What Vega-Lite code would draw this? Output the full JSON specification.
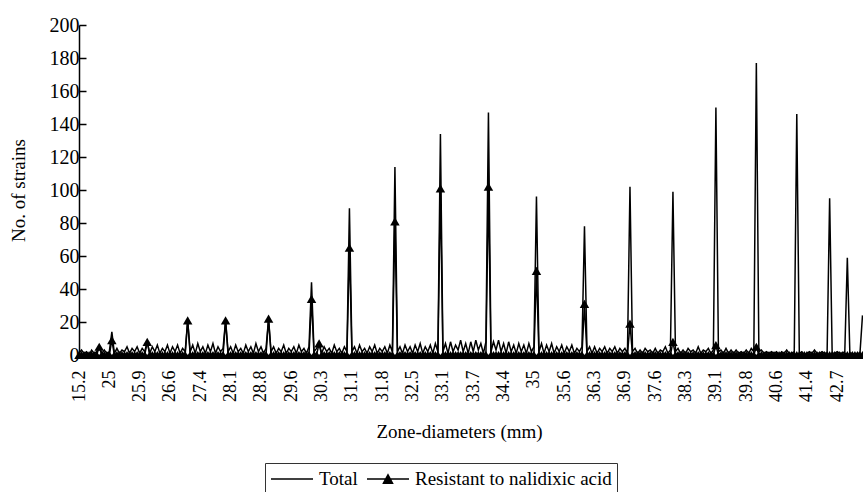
{
"$schema": "https://vega.github.io/schema/vega-lite/v6.json",
"autosize": {"type": "none"},
"padding": {"left": 79, "top": 25, "right": 0, "bottom": 137},
"width": 784,
"height": 330,
"background": "white",
"config": {
  "view": {"stroke": null},
  "font": "Liberation Serif",
  "axis": {"labelFont": "Liberation Serif", "titleFont": "Liberation Serif", "labelColor": "black", "titleColor": "black", "domainColor": "black", "tickColor": "black", "grid": false, "titleFontWeight": "normal", "domainWidth": 1.5, "tickWidth": 1.5},
  "axisY": {"values": [0,20,40,60,80,100,120,140,160,180,200], "tickSize": -7, "labelFontSize": 20, "labelPadding": 7, "labelOverlap": false, "labelFlush": false,
    "titleFontSize": 19, "titleAngle": 270, "titleX": -61, "titleY": 165, "titleBaseline": "middle", "titleAlign": "center"}
},
"data": {"values": [
{"i":0,"t":1,"r":0},{"i":1,"t":3,"r":0},{"i":2,"t":1,"r":0},{"i":3,"t":2,"r":0},{"i":4,"t":0,"r":0},{"i":5,"t":3,"r":0},{"i":6,"t":1,"r":0},{"i":7,"t":2,"r":0},{"i":8,"t":5,"r":5},{"i":9,"t":1,"r":0},{"i":10,"t":3,"r":0},{"i":11,"t":1,"r":0},
{"i":12,"t":2,"r":0},{"i":13,"t":14,"r":9},{"i":14,"t":1,"r":0},{"i":15,"t":4,"r":0},{"i":16,"t":1,"r":0},{"i":17,"t":3,"r":0},{"i":18,"t":2,"r":0},{"i":19,"t":5,"r":0},{"i":20,"t":1,"r":0},{"i":21,"t":4,"r":0},{"i":22,"t":2,"r":0},{"i":23,"t":5,"r":0},
{"i":24,"t":1,"r":0},{"i":25,"t":4,"r":0},{"i":26,"t":2,"r":0},{"i":27,"t":8,"r":8},{"i":28,"t":1,"r":0},{"i":29,"t":5,"r":0},{"i":30,"t":2,"r":0},{"i":31,"t":6,"r":0},{"i":32,"t":1,"r":0},{"i":33,"t":4,"r":0},{"i":34,"t":2,"r":0},{"i":35,"t":6,"r":0},
{"i":36,"t":1,"r":0},{"i":37,"t":5,"r":0},{"i":38,"t":2,"r":0},{"i":39,"t":6,"r":0},{"i":40,"t":1,"r":0},{"i":41,"t":4,"r":0},{"i":42,"t":2,"r":0},{"i":43,"t":21,"r":21},{"i":44,"t":2,"r":0},{"i":45,"t":6,"r":0},{"i":46,"t":1,"r":0},{"i":47,"t":7,"r":0},
{"i":48,"t":2,"r":0},{"i":49,"t":5,"r":0},{"i":50,"t":1,"r":0},{"i":51,"t":6,"r":0},{"i":52,"t":2,"r":0},{"i":53,"t":7,"r":0},{"i":54,"t":1,"r":0},{"i":55,"t":5,"r":0},{"i":56,"t":2,"r":0},{"i":57,"t":4,"r":0},{"i":58,"t":21,"r":21},{"i":59,"t":2,"r":0},
{"i":60,"t":5,"r":0},{"i":61,"t":1,"r":0},{"i":62,"t":6,"r":0},{"i":63,"t":2,"r":0},{"i":64,"t":4,"r":0},{"i":65,"t":1,"r":0},{"i":66,"t":6,"r":0},{"i":67,"t":2,"r":0},{"i":68,"t":5,"r":0},{"i":69,"t":1,"r":0},{"i":70,"t":7,"r":0},{"i":71,"t":2,"r":0},
{"i":72,"t":5,"r":0},{"i":73,"t":1,"r":0},{"i":74,"t":4,"r":0},{"i":75,"t":22,"r":22},{"i":76,"t":2,"r":0},{"i":77,"t":5,"r":0},{"i":78,"t":1,"r":0},{"i":79,"t":4,"r":0},{"i":80,"t":2,"r":0},{"i":81,"t":6,"r":0},{"i":82,"t":1,"r":0},{"i":83,"t":4,"r":0},
{"i":84,"t":2,"r":0},{"i":85,"t":5,"r":0},{"i":86,"t":1,"r":0},{"i":87,"t":6,"r":0},{"i":88,"t":2,"r":0},{"i":89,"t":4,"r":0},{"i":90,"t":1,"r":0},{"i":91,"t":5,"r":0},{"i":92,"t":44,"r":34},{"i":93,"t":2,"r":0},{"i":94,"t":4,"r":0},{"i":95,"t":7,"r":7},
{"i":96,"t":1,"r":0},{"i":97,"t":5,"r":0},{"i":98,"t":2,"r":0},{"i":99,"t":4,"r":0},{"i":100,"t":1,"r":0},{"i":101,"t":6,"r":0},{"i":102,"t":2,"r":0},{"i":103,"t":4,"r":0},{"i":104,"t":1,"r":0},{"i":105,"t":5,"r":0},{"i":106,"t":2,"r":0},{"i":107,"t":89,"r":65},
{"i":108,"t":2,"r":0},{"i":109,"t":5,"r":0},{"i":110,"t":1,"r":0},{"i":111,"t":6,"r":0},{"i":112,"t":2,"r":0},{"i":113,"t":4,"r":0},{"i":114,"t":1,"r":0},{"i":115,"t":5,"r":0},{"i":116,"t":2,"r":0},{"i":117,"t":6,"r":0},{"i":118,"t":1,"r":0},{"i":119,"t":4,"r":0},
{"i":120,"t":2,"r":0},{"i":121,"t":5,"r":0},{"i":122,"t":1,"r":0},{"i":123,"t":6,"r":0},{"i":124,"t":2,"r":0},{"i":125,"t":114,"r":81},{"i":126,"t":2,"r":0},{"i":127,"t":5,"r":0},{"i":128,"t":1,"r":0},{"i":129,"t":6,"r":0},{"i":130,"t":2,"r":0},{"i":131,"t":5,"r":0},
{"i":132,"t":1,"r":0},{"i":133,"t":6,"r":0},{"i":134,"t":2,"r":0},{"i":135,"t":7,"r":0},{"i":136,"t":1,"r":0},{"i":137,"t":5,"r":0},{"i":138,"t":2,"r":0},{"i":139,"t":6,"r":0},{"i":140,"t":1,"r":0},{"i":141,"t":7,"r":0},{"i":142,"t":2,"r":0},{"i":143,"t":134,"r":101},
{"i":144,"t":2,"r":0},{"i":145,"t":7,"r":0},{"i":146,"t":1,"r":0},{"i":147,"t":8,"r":0},{"i":148,"t":2,"r":0},{"i":149,"t":6,"r":0},{"i":150,"t":3,"r":0},{"i":151,"t":9,"r":0},{"i":152,"t":2,"r":0},{"i":153,"t":7,"r":0},{"i":154,"t":1,"r":0},{"i":155,"t":8,"r":0},
{"i":156,"t":2,"r":0},{"i":157,"t":9,"r":0},{"i":158,"t":3,"r":0},{"i":159,"t":7,"r":0},{"i":160,"t":1,"r":0},{"i":161,"t":8,"r":0},{"i":162,"t":147,"r":102},{"i":163,"t":2,"r":0},{"i":164,"t":8,"r":0},{"i":165,"t":3,"r":0},{"i":166,"t":9,"r":0},{"i":167,"t":2,"r":0},
{"i":168,"t":7,"r":0},{"i":169,"t":1,"r":0},{"i":170,"t":8,"r":0},{"i":171,"t":2,"r":0},{"i":172,"t":6,"r":0},{"i":173,"t":1,"r":0},{"i":174,"t":7,"r":0},{"i":175,"t":2,"r":0},{"i":176,"t":6,"r":0},{"i":177,"t":1,"r":0},{"i":178,"t":7,"r":0},{"i":179,"t":2,"r":0},
{"i":180,"t":5,"r":0},{"i":181,"t":96,"r":51},{"i":182,"t":2,"r":0},{"i":183,"t":7,"r":0},{"i":184,"t":1,"r":0},{"i":185,"t":6,"r":0},{"i":186,"t":2,"r":0},{"i":187,"t":7,"r":0},{"i":188,"t":1,"r":0},{"i":189,"t":5,"r":0},{"i":190,"t":2,"r":0},{"i":191,"t":6,"r":0},
{"i":192,"t":1,"r":0},{"i":193,"t":5,"r":0},{"i":194,"t":2,"r":0},{"i":195,"t":6,"r":0},{"i":196,"t":1,"r":0},{"i":197,"t":4,"r":0},{"i":198,"t":2,"r":0},{"i":199,"t":5,"r":0},{"i":200,"t":78,"r":31},{"i":201,"t":2,"r":0},{"i":202,"t":5,"r":0},{"i":203,"t":1,"r":0},
{"i":204,"t":5,"r":0},{"i":205,"t":1,"r":0},{"i":206,"t":4,"r":0},{"i":207,"t":2,"r":0},{"i":208,"t":5,"r":0},{"i":209,"t":1,"r":0},{"i":210,"t":4,"r":0},{"i":211,"t":2,"r":0},{"i":212,"t":5,"r":0},{"i":213,"t":1,"r":0},{"i":214,"t":4,"r":0},{"i":215,"t":2,"r":0},
{"i":216,"t":4,"r":0},{"i":217,"t":1,"r":0},{"i":218,"t":102,"r":19},{"i":219,"t":2,"r":0},{"i":220,"t":4,"r":0},{"i":221,"t":1,"r":0},{"i":222,"t":3,"r":0},{"i":223,"t":1,"r":0},{"i":224,"t":4,"r":0},{"i":225,"t":2,"r":0},{"i":226,"t":3,"r":0},{"i":227,"t":1,"r":0},
{"i":228,"t":4,"r":0},{"i":229,"t":1,"r":0},{"i":230,"t":3,"r":0},{"i":231,"t":2,"r":0},{"i":232,"t":5,"r":0},{"i":233,"t":1,"r":0},{"i":234,"t":3,"r":0},{"i":235,"t":99,"r":8},{"i":236,"t":2,"r":0},{"i":237,"t":4,"r":0},{"i":238,"t":1,"r":0},{"i":239,"t":3,"r":0},
{"i":240,"t":1,"r":0},{"i":241,"t":4,"r":0},{"i":242,"t":2,"r":0},{"i":243,"t":3,"r":0},{"i":244,"t":1,"r":0},{"i":245,"t":5,"r":0},{"i":246,"t":1,"r":0},{"i":247,"t":3,"r":0},{"i":248,"t":2,"r":0},{"i":249,"t":4,"r":0},{"i":250,"t":1,"r":0},{"i":251,"t":3,"r":0},
{"i":252,"t":150,"r":6},{"i":253,"t":2,"r":0},{"i":254,"t":3,"r":0},{"i":255,"t":1,"r":0},{"i":256,"t":4,"r":0},{"i":257,"t":1,"r":0},{"i":258,"t":3,"r":0},{"i":259,"t":1,"r":0},{"i":260,"t":3,"r":0},{"i":261,"t":1,"r":0},{"i":262,"t":2,"r":0},{"i":263,"t":1,"r":0},
{"i":264,"t":3,"r":0},{"i":265,"t":1,"r":0},{"i":266,"t":4,"r":0},{"i":267,"t":2,"r":0},{"i":268,"t":177,"r":5},{"i":269,"t":2,"r":0},{"i":270,"t":3,"r":0},{"i":271,"t":1,"r":0},{"i":272,"t":2,"r":0},{"i":273,"t":1,"r":0},{"i":274,"t":2,"r":0},{"i":275,"t":1,"r":0},
{"i":276,"t":2,"r":0},{"i":277,"t":0,"r":0},{"i":278,"t":2,"r":0},{"i":279,"t":1,"r":0},{"i":280,"t":3,"r":0},{"i":281,"t":1,"r":0},{"i":282,"t":1,"r":0},{"i":283,"t":2,"r":0},{"i":284,"t":146,"r":0},{"i":285,"t":1,"r":0},{"i":286,"t":2,"r":0},{"i":287,"t":0,"r":0},
{"i":288,"t":1,"r":0},{"i":289,"t":2,"r":0},{"i":290,"t":1,"r":0},{"i":291,"t":3,"r":0},{"i":292,"t":1,"r":0},{"i":293,"t":1,"r":0},{"i":294,"t":2,"r":0},{"i":295,"t":1,"r":0},{"i":296,"t":1,"r":0},{"i":297,"t":95,"r":0},{"i":298,"t":1,"r":0},{"i":299,"t":1,"r":0},
{"i":300,"t":2,"r":0},{"i":301,"t":1,"r":0},{"i":302,"t":1,"r":0},{"i":303,"t":2,"r":0},{"i":304,"t":59,"r":0},{"i":305,"t":1,"r":0},{"i":306,"t":1,"r":0},{"i":307,"t":0,"r":0},{"i":308,"t":1,"r":0},{"i":309,"t":1,"r":0},{"i":310,"t":24,"r":0}
]},
"encoding": {
  "x": {"field": "i", "type": "quantitative", "scale": {"domain": [0, 310.2], "nice": false, "zero": false},
    "axis": {"values": [0,12,24,36,48,60,72,84,96,108,120,132,144,156,168,180,192,204,216,228,240,252,264,276,288,300],
      "labelExpr": "['15.2','25','25.9','26.6','27.4','28.1','28.8','29.6','30.3','31.1','31.8','32.5','33.1','33.7','34.4','35','35.6','36.3','36.9','37.6','38.3','39.1','39.8','40.6','41.4','42.7'][round(datum.value/12)]",
      "labelAngle": -90, "labelFontSize": 18, "ticks": false, "labelPadding": 15, "labelFlush": false, "labelOverlap": false, "labelBound": false,
      "title": "Zone-diameters (mm)", "titleFontSize": 19, "titleX": 380, "titleY": 76, "titleBaseline": "middle", "titleAlign": "center"}}
},
"layer": [
  {"transform": [{"fold": ["t", "r"], "as": ["k", "v"]}],
   "mark": {"type": "line", "strokeWidth": 1.5, "clip": true},
   "encoding": {
     "y": {"field": "v", "type": "quantitative", "scale": {"domain": [0, 200], "nice": false}, "title": "No. of strains"},
     "color": {"field": "k", "type": "nominal", "scale": {"domain": ["t", "r"], "range": ["black", "black"]},
       "legend": {"title": null, "orient": "none", "legendX": 186, "legendY": 438, "direction": "horizontal",
         "labelExpr": "datum.value == 't' ? 'Total' : 'Resistant to nalidixic acid'",
         "symbolSize": 400, "symbolStrokeWidth": 1.5, "labelFont": "Liberation Serif", "labelFontSize": 19, "labelColor": "black", "labelLimit": 0,
         "strokeColor": "#333", "padding": 5, "columnPadding": 6, "labelOffset": 27,
         "encode": {"symbols": {"update": {"shape": {"signal": "datum.value == 't' ? 'M-1,0H3.2' : 'M-1,0H3.2M0.65,0.42L1.1,-0.42L1.55,0.42Z'"}, "fill": {"value": "black"}, "stroke": {"value": "black"}, "opacity": {"value": 1}}}}}}
   }},
  {"mark": {"type": "point", "shape": "triangle-up", "filled": true, "size": 90, "color": "black", "opacity": 1, "clip": false},
   "encoding": {"y": {"field": "r", "type": "quantitative", "title": "No. of strains"}}}
]
}
